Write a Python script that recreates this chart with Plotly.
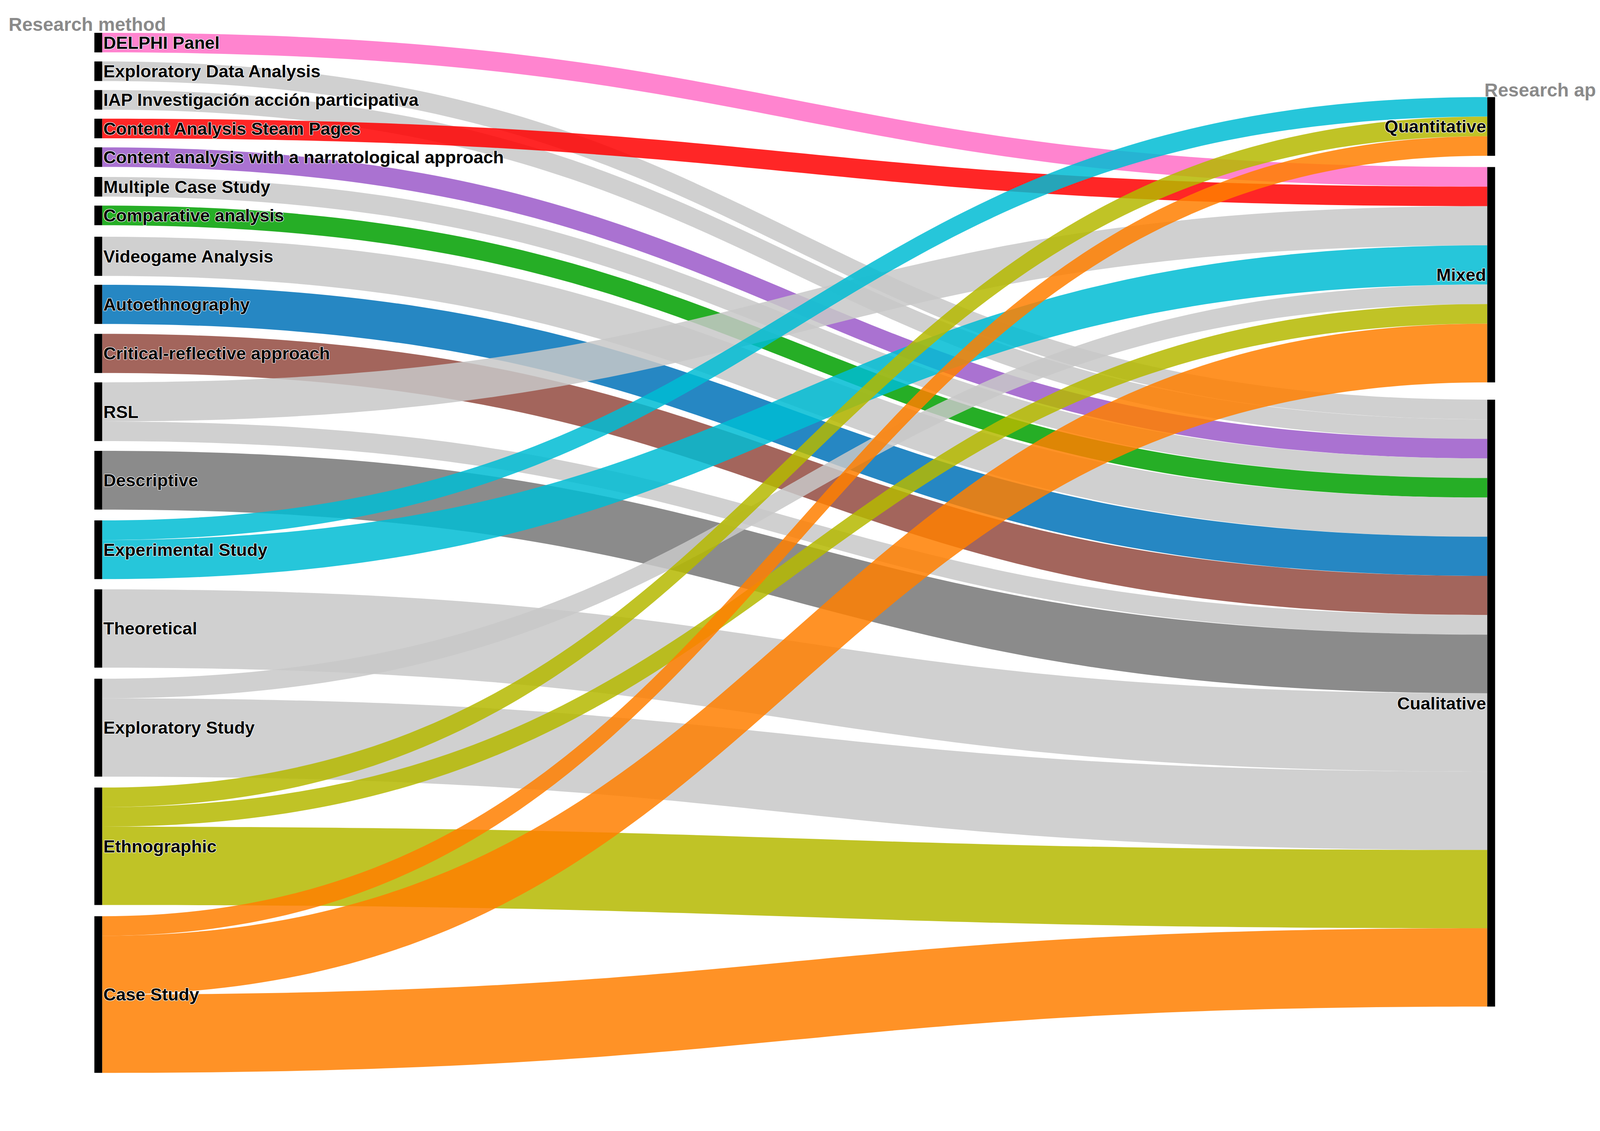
import plotly.graph_objects as go

methods = ["DELPHI Panel", "Exploratory Data Analysis", "IAP Investigación acción participativa",
           "Content Analysis Steam Pages", "Content analysis with a narratological approach",
           "Multiple Case Study", "Comparative analysis", "Videogame Analysis", "Autoethnography",
           "Critical-reflective approach", "RSL", "Descriptive", "Experimental Study", "Theoretical",
           "Exploratory Study", "Ethnographic", "Case Study"]
approaches = ["Quantitative", "Mixed", "Cualitative"]

# (method, approach, count, color)
flows = [
    ("DELPHI Panel", "Mixed", 1, "#ff6ec7"),
    ("Exploratory Data Analysis", "Cualitative", 1, "#c8c8c8"),
    ("IAP Investigación acción participativa", "Cualitative", 1, "#c8c8c8"),
    ("Content Analysis Steam Pages", "Mixed", 1, "#ff0000"),
    ("Content analysis with a narratological approach", "Cualitative", 1, "#9b59c9"),
    ("Multiple Case Study", "Cualitative", 1, "#c8c8c8"),
    ("Comparative analysis", "Cualitative", 1, "#00a000"),
    ("Videogame Analysis", "Cualitative", 2, "#c8c8c8"),
    ("Autoethnography", "Cualitative", 2, "#0072b8"),
    ("Critical-reflective approach", "Cualitative", 2, "#934a40"),
    ("RSL", "Mixed", 2, "#c8c8c8"),
    ("RSL", "Cualitative", 1, "#c8c8c8"),
    ("Descriptive", "Cualitative", 3, "#777777"),
    ("Experimental Study", "Quantitative", 1, "#00bcd4"),
    ("Experimental Study", "Mixed", 2, "#00bcd4"),
    ("Theoretical", "Cualitative", 4, "#c8c8c8"),
    ("Exploratory Study", "Mixed", 1, "#c8c8c8"),
    ("Exploratory Study", "Cualitative", 4, "#c8c8c8"),
    ("Ethnographic", "Quantitative", 1, "#b5b800"),
    ("Ethnographic", "Mixed", 1, "#b5b800"),
    ("Ethnographic", "Cualitative", 4, "#b5b800"),
    ("Case Study", "Quantitative", 1, "#ff7f00"),
    ("Case Study", "Mixed", 3, "#ff7f00"),
    ("Case Study", "Cualitative", 4, "#ff7f00"),
]

def hex2rgba(h, a):
    h = h.lstrip("#")
    return "rgba(%d,%d,%d,%.2f)" % (int(h[0:2], 16), int(h[2:4], 16), int(h[4:6], 16), a)

labels = methods + approaches
idx = {n: i for i, n in enumerate(labels)}

S = 2.726
T0, B0 = 88, 25
H0 = 2895 - T0 - B0
left_c = [43, 71, 99, 127, 155, 184, 212, 252, 299, 347, 404, 471, 539, 616, 713, 829, 974]
right_c = [125, 270, 689]
ys = [(c * S - T0) / H0 for c in left_c + right_c]
xs = [0.001] * len(methods) + [0.999] * len(approaches)

T, B, L, R = 73, 151, 240, 440
H = 2895 - T - B
W = 4253 - L - R

fig = go.Figure(go.Sankey(
    arrangement="fixed",
    node=dict(label=["<b>%s</b>" % l for l in labels], x=xs, y=ys, pad=26, thickness=20,
              color="black", line=dict(width=0)),
    link=dict(source=[idx[f[0]] for f in flows], target=[idx[f[1]] for f in flows],
              value=[f[2] for f in flows], color=[hex2rgba(f[3], 0.85) for f in flows]),
    textfont=dict(family="Liberation Sans, Arial", size=45, color="black"),
))
fig.update_layout(
    width=4253, height=2895, paper_bgcolor="white",
    margin=dict(l=L, r=R, t=T, b=B),
    font=dict(family="Liberation Sans, Arial"),
    annotations=[
        dict(text="<b>Research method</b>", xref="paper", yref="paper", x=0, y=1 - (20 * 2.717 - T) / H,
             xanchor="left", yanchor="middle", showarrow=False, font=dict(size=48, color="#8a8a8a"),
             xshift=-(L - 12)),
        dict(text="<b>Research approach</b>", xref="paper", yref="paper", x=1.0, y=1 - (82 * 2.717 - T) / H,
             xanchor="right", yanchor="middle", showarrow=False, font=dict(size=48, color="#8a8a8a"),
             xshift=4240 - (L + W)),
    ],
)
fig.write_html("out.html")
